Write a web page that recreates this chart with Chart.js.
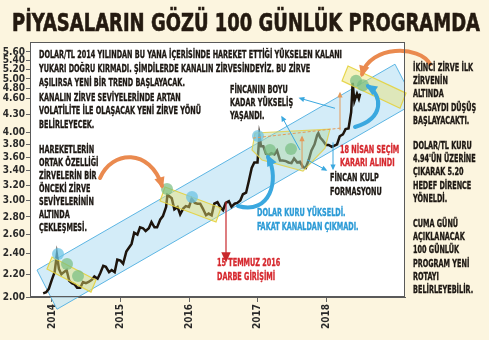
<!DOCTYPE html>
<html>
<head>
<meta charset="utf-8">
<script src="https://cdn.jsdelivr.net/npm/chart.js@4.4.1/dist/chart.umd.min.js"></script>
<style>
    html, body { margin: 0; padding: 0; background: #fcf5df; }
    #c { display: block; }
</style>
</head>
<body>
<canvas id="c" width="489" height="340"></canvas>
<script>
// ---- Data ----
const dates = [
    '2013-11-15', '2013-12-01', '2013-12-15', '2013-12-31',
    '2014-01-15', '2014-01-27', '2014-02-07', '2014-02-20', '2014-03-05', '2014-03-20',
    '2014-04-03', '2014-04-17', '2014-05-01', '2014-05-15', '2014-06-01', '2014-06-15',
    '2014-07-01', '2014-07-15', '2014-08-01', '2014-08-15', '2014-09-01', '2014-09-15',
    '2014-10-01', '2014-10-15', '2014-11-01', '2014-11-15', '2014-12-01', '2014-12-15',
    '2015-01-01', '2015-01-15', '2015-02-01', '2015-02-15', '2015-03-01', '2015-03-15',
    '2015-04-01', '2015-04-15', '2015-05-01', '2015-05-15', '2015-06-01', '2015-06-15',
    '2015-07-01', '2015-07-15', '2015-08-01', '2015-08-15', '2015-09-01', '2015-09-08',
    '2015-09-20', '2015-10-01', '2015-10-15', '2015-11-01', '2015-11-15', '2015-12-01',
    '2015-12-15', '2016-01-01', '2016-01-15', '2016-02-01', '2016-02-15', '2016-03-01',
    '2016-03-15', '2016-04-01', '2016-04-15', '2016-05-01', '2016-05-15', '2016-06-01',
    '2016-06-15', '2016-07-01', '2016-07-15', '2016-08-01', '2016-08-15', '2016-09-01',
    '2016-09-15', '2016-10-01', '2016-10-15', '2016-11-01', '2016-11-15', '2016-12-01',
    '2016-12-15', '2017-01-01', '2017-01-11', '2017-01-20', '2017-02-01', '2017-02-15',
    '2017-03-01', '2017-03-15', '2017-04-01', '2017-04-15', '2017-05-01', '2017-05-15',
    '2017-06-01', '2017-06-15', '2017-07-01', '2017-07-15', '2017-08-01', '2017-08-15',
    '2017-09-01', '2017-09-15', '2017-10-01', '2017-10-15', '2017-11-01', '2017-11-15',
    '2017-11-21', '2017-12-01', '2017-12-15', '2018-01-01', '2018-01-15', '2018-02-01',
    '2018-02-15', '2018-03-01', '2018-03-15', '2018-04-01', '2018-04-15', '2018-05-01',
    '2018-05-15', '2018-05-23', '2018-06-01', '2018-06-15', '2018-06-25', '2018-07-02'
];
const usdTry = [
    2.03, 2.04, 2.07, 2.15,
    2.22, 2.39, 2.25, 2.20, 2.22, 2.24,
    2.14, 2.12, 2.11, 2.08, 2.08, 2.13,
    2.12, 2.13, 2.15, 2.18, 2.16, 2.21,
    2.28, 2.27, 2.22, 2.24, 2.22, 2.34,
    2.33, 2.30, 2.42, 2.46, 2.50, 2.62,
    2.60, 2.68, 2.67, 2.64, 2.67, 2.74,
    2.68, 2.68, 2.77, 2.81, 2.92, 3.07,
    3.05, 3.03, 2.89, 2.92, 2.83, 2.90,
    2.93, 2.92, 3.02, 2.97, 2.96, 2.96,
    2.90, 2.82, 2.84, 2.82, 2.96, 2.98,
    2.92, 2.88, 2.97, 2.99, 2.92, 2.96,
    2.97, 3.00, 3.08, 3.10, 3.25, 3.44,
    3.52, 3.52, 3.94, 3.77, 3.77, 3.65,
    3.63, 3.66, 3.64, 3.70, 3.55, 3.55,
    3.54, 3.52, 3.51, 3.58, 3.52, 3.53,
    3.45, 3.44, 3.56, 3.70, 3.80, 3.95,
    3.98, 3.91, 3.86, 3.79, 3.79, 3.76,
    3.78, 3.80, 3.93, 3.96, 4.05, 4.06,
    4.35, 4.92, 4.55, 4.70, 4.60, 4.70
];
const yearTicks = [2014, 2015, 2016, 2017, 2018];
const priceTicks = [2.00, 2.20, 2.40, 2.60, 2.80, 3.00, 3.20, 3.40, 3.60, 3.80,
    4.00, 4.30, 4.60, 4.80, 5.00, 5.20, 5.40, 5.60];

// ---- Annotation shapes, in [decimal year, price] ----
const channel = [[2013.781, 2.24], [2019.007, 5.32], [2019.299, 4.52], [2014.073, 1.90]];
const yellowBoxes = [
    [[2014.000, 2.366], [2014.642, 2.148], [2014.569, 2.042], [2013.927, 2.250]],
    [[2015.650, 3.175], [2016.467, 2.907], [2016.394, 2.741], [2015.577, 2.994]],
    [[2018.321, 5.28], [2019.168, 4.71], [2019.080, 4.42], [2018.234, 4.96]]
];
const cupArea = [[2016.964, 3.984], [2018.058, 4.049], [2017.985, 3.739],
    [2017.664, 3.395], [2017.066, 3.556], [2016.920, 3.71]];
const peakDots = [
    [2014.088, 2.396, 'b'], [2014.219, 2.297, 'g'], [2014.380, 2.184, 'g'],
    [2015.679, 3.149, 'g'], [2016.044, 3.045, 'b'],
    [2017.007, 3.934, 'b'], [2017.182, 3.71, 'g'], [2017.489, 3.725, 'g'],
    [2018.438, 4.96, 'g'], [2018.540, 4.87, 'g']
];
// curved arrows: start, control 1, control 2, end (head)
const bigArrows = [
    { c: '#ea8a4f', p: [[2014.701, 3.297], [2014.876, 3.71], [2015.431, 3.739], [2015.606, 3.19]] },
    { c: '#ea8a4f', p: [[2019.518, 5.32], [2019.372, 5.766], [2018.642, 5.766], [2018.526, 5.10]] },
    { c: '#3aa8df', p: [[2016.715, 2.932], [2017.182, 2.822], [2017.328, 3.27], [2017.153, 3.60]] },
    { c: '#3aa8df', p: [[2018.423, 4.086], [2018.861, 4.24], [2018.818, 4.67], [2018.613, 4.85]] }
];
// thin straight pointers: from, to (head)
const thinArrows = [
    { c: '#3aa8df', p: [[2018.131, 4.42], [2017.620, 4.61]] },
    { c: '#3aa8df', p: [[2017.620, 3.71], [2017.358, 4.26]] },
    { c: '#3aa8df', p: [[2017.723, 3.56], [2018.000, 3.41]] },
    { c: '#3aa8df', p: [[2018.102, 3.83], [2018.102, 3.43]] },
    { c: '#e39a5a', p: [[2017.650, 3.43], [2017.650, 3.918]] },
    { c: '#e39a5a', p: [[2018.204, 4.03], [2018.204, 4.71]] }
];
const cupRim = [[2016.934, 3.90], [2018.234, 4.07]];
const coupArrow = [[2016.540, 2.98], [2016.540, 2.336]];

// ---- Texts ----
const titleText = 'PİYASALARIN GÖZÜ 100 GÜNLÜK PROGRAMDA';
const noteChannel = ['DOLAR/TL 2014 YILINDAN BU YANA İÇERİSİNDE HAREKET ETTİĞİ YÜKSELEN KALANI',
    'YUKARI DOĞRU KIRMADI. ŞİMDİLERDE KANALIN ZİRVESİNDEYİZ. BU ZİRVE',
    'AŞILIRSA YENİ BİR TREND BAŞLAYACAK.'];
const noteVolatility = ['KANALIN ZİRVE SEVİYELERİNDE ARTAN',
    'VOLATİLİTE İLE OLAŞACAK YENİ ZİRVE YÖNÜ', 'BELİRLEYECEK.'];
const notePeaks = ['HAREKETLERİN', 'ORTAK ÖZELLİĞİ', 'ZİRVELERİN BİR', 'ÖNCEKİ ZİRVE',
    'SEVİYELERİNİN', 'ALTINDA', 'ÇEKLEŞMESİ.'];
const noteCup = ['FİNCANIN BOYU', 'KADAR YÜKSELİŞ', 'YAŞANDI.'];
const noteRise = ['DOLAR KURU YÜKSELDİ.', 'FAKAT KANALDAN ÇIKMADI.'];
const noteCoup = ['15 TEMMUZ 2016', 'DARBE GİRİŞİMİ'];
const noteElection = ['18 NİSAN SEÇİM', 'KARARI ALINDI'];
const noteHandle = ['FİNCAN KULP', 'FORMASYONU'];
const sideSecond = ['İKİNCİ ZİRVE İLK', 'ZİRVENİN', 'ALTINDA', 'KALSAYDI DÜŞÜŞ', 'BAŞLAYACAKTI.'];
const sideTarget = ['DOLAR/TL KURU', '4.94\'ÜN ÜZERİNE', 'ÇIKARAK 5.20', 'HEDEF DİRENCE', 'YÖNELDİ.'];
const sideFriday = ['CUMA GÜNÜ', 'AÇIKLANACAK', '100 GÜNLÜK', 'PROGRAM YENİ', 'ROTAYI', 'BELİRLEYEBİLİR.'];

const FONT = "'Liberation Sans Narrow', 'DejaVu Sans Condensed', Roboto, sans-serif";
const INK = '#1c1712';
const RED = '#d6282e';
const BLUE = '#2c9bd6';

const notes = [
    { lines: noteChannel, x: 39, y: 55, lh: 14, color: INK },
    { lines: noteVolatility, x: 39, y: 98, lh: 13.5, color: INK },
    { lines: notePeaks, x: 39, y: 150, lh: 13, color: INK },
    { lines: noteCup, x: 230, y: 90, lh: 13, color: INK },
    { lines: noteRise, x: 257, y: 213, lh: 14, color: BLUE },
    { lines: noteCoup, x: 217, y: 263, lh: 14, color: RED },
    { lines: noteElection, x: 340, y: 150, lh: 13, color: RED },
    { lines: noteHandle, x: 330, y: 178, lh: 14, color: INK },
    { lines: sideSecond, x: 413, y: 68, lh: 13.3, color: INK },
    { lines: sideTarget, x: 413, y: 146, lh: 13.3, color: INK },
    { lines: sideFriday, x: 413, y: 224, lh: 13.3, color: INK }
];

function decYear(s) {
    const d = new Date(s + 'T00:00:00Z');
    const y = d.getUTCFullYear();
    const a = Date.UTC(y, 0, 1), b = Date.UTC(y + 1, 0, 1);
    return y + (d.getTime() - a) / (b - a);
}

const points = dates.map((d, i) => ({ x: decYear(d), y: usdTry[i] }));

const decor = {
    id: 'decor',
    beforeDraw(chart) {
        const { ctx, chartArea: a } = chart;
        ctx.save();
        ctx.fillStyle = '#fcf5df';
        ctx.fillRect(0, 0, chart.width, chart.height);
        ctx.fillStyle = '#ffffff';
        ctx.fillRect(a.left, a.top, a.right - a.left, a.bottom - a.top);
        // title
        ctx.fillStyle = '#241a10';
        ctx.font = 'bold 25px ' + FONT;
        ctx.textBaseline = 'alphabetic';
        const w = ctx.measureText(titleText).width;
        ctx.translate(12, 31);
        ctx.scale(468 / w, 1);
        ctx.fillText(titleText, 0, 0);
        ctx.lineWidth = 0.6;
        ctx.strokeStyle = '#241a10';
        ctx.strokeText(titleText, 0, 0);
        ctx.restore();
    },
    beforeDatasetsDraw(chart) {
        const { ctx, chartArea: a } = chart;
        const px = p => [chart.scales.x.getPixelForValue(p[0]), chart.scales.y.getPixelForValue(p[1])];
        ctx.save();
        ctx.beginPath();
        ctx.rect(0, a.top, a.right, chart.height - a.top);
        ctx.clip();
        ctx.beginPath();
        channel.map(px).forEach((q, i) => i ? ctx.lineTo(q[0], q[1]) : ctx.moveTo(q[0], q[1]));
        ctx.closePath();
        ctx.fillStyle = 'rgba(196, 229, 245, 0.75)';
        ctx.fill();
        ctx.strokeStyle = '#5db6e4';
        ctx.lineWidth = 1;
        ctx.stroke();
        ctx.restore();
    },
    afterDatasetsDraw(chart) {
        const { ctx } = chart;
        const px = p => [chart.scales.x.getPixelForValue(p[0]), chart.scales.y.getPixelForValue(p[1])];
        const poly = (pts, fill, stroke) => {
            ctx.beginPath();
            pts.map(px).forEach((q, i) => i ? ctx.lineTo(q[0], q[1]) : ctx.moveTo(q[0], q[1]));
            ctx.closePath();
            ctx.fillStyle = fill;
            ctx.fill();
            ctx.strokeStyle = stroke;
            ctx.lineWidth = 1.2;
            ctx.stroke();
        };
        const head = (tip, from, size, color) => {
            const ang = Math.atan2(tip[1] - from[1], tip[0] - from[0]);
            ctx.beginPath();
            ctx.moveTo(tip[0] + Math.cos(ang) * size * 0.3, tip[1] + Math.sin(ang) * size * 0.3);
            ctx.lineTo(tip[0] - Math.cos(ang - 0.55) * size, tip[1] - Math.sin(ang - 0.55) * size);
            ctx.lineTo(tip[0] - Math.cos(ang + 0.55) * size, tip[1] - Math.sin(ang + 0.55) * size);
            ctx.closePath();
            ctx.fillStyle = color;
            ctx.fill();
        };
        ctx.save();
        poly(cupArea, 'rgba(178, 218, 170, 0.5)', 'rgba(226, 210, 80, 0.9)');
        yellowBoxes.forEach(b => poly(b, 'rgba(236, 226, 110, 0.45)', 'rgba(228, 210, 60, 0.9)'));
        peakDots.forEach(d => {
            const q = px(d);
            ctx.beginPath();
            ctx.arc(q[0], q[1], 6, 0, Math.PI * 2);
            ctx.fillStyle = d[2] === 'b' ? 'rgba(110, 196, 228, 0.75)' : 'rgba(120, 190, 130, 0.7)';
            ctx.fill();
        });
        // cup rim and measuring lines
        const r = cupRim.map(px);
        ctx.strokeStyle = '#e39a5a';
        ctx.lineWidth = 1;
        ctx.setLineDash([3, 2]);
        ctx.beginPath();
        ctx.moveTo(r[0][0], r[0][1]);
        ctx.lineTo(r[1][0], r[1][1]);
        ctx.stroke();
        ctx.setLineDash([]);
        thinArrows.forEach(t => {
            const p = t.p.map(px);
            ctx.strokeStyle = t.c;
            ctx.lineWidth = 1;
            ctx.beginPath();
            ctx.moveTo(p[0][0], p[0][1]);
            ctx.lineTo(p[1][0], p[1][1]);
            ctx.stroke();
            head(p[1], p[0], 5, t.c);
        });
        bigArrows.forEach(b => {
            const p = b.p.map(px);
            ctx.strokeStyle = b.c;
            ctx.lineWidth = 4;
            ctx.lineCap = 'round';
            ctx.beginPath();
            ctx.moveTo(p[0][0], p[0][1]);
            ctx.bezierCurveTo(p[1][0], p[1][1], p[2][0], p[2][1], p[3][0], p[3][1]);
            ctx.stroke();
            head(p[3], p[2], 10, b.c);
        });
        // coup arrow
        const c = coupArrow.map(px);
        ctx.strokeStyle = '#c8282c';
        ctx.lineWidth = 1.2;
        ctx.beginPath();
        ctx.moveTo(c[0][0], c[0][1]);
        ctx.lineTo(c[1][0], c[1][1] - 6);
        ctx.stroke();
        head(c[1], c[0], 9, '#c8282c');
        ctx.restore();
    },
    afterDraw(chart) {
        const { ctx, chartArea: a } = chart;
        ctx.save();
        ctx.strokeStyle = '#5a5a5a';
        ctx.lineWidth = 1;
        ctx.strokeRect(a.left + 0.5, a.top + 0.5, a.right - a.left - 1, a.bottom - a.top - 1);
        ctx.font = 'bold 11px ' + FONT;
        ctx.textBaseline = 'middle';
        const squeeze = Math.min(1, 303 / ctx.measureText(noteChannel[0]).width);
        notes.forEach(n => {
            ctx.fillStyle = n.color;
            ctx.strokeStyle = n.color;
            ctx.lineWidth = 0.35;
            n.lines.forEach((t, i) => {
                ctx.save();
                ctx.translate(n.x, n.y + i * n.lh);
                ctx.scale(squeeze, 1);
                ctx.fillText(t, 0, 0);
                ctx.strokeText(t, 0, 0);
                ctx.restore();
            });
        });
        ctx.restore();
    }
};

const tickFont = { family: FONT, size: 10, weight: 'bold' };

new Chart(document.getElementById('c'), {
    type: 'line',
    data: {
        datasets: [{
            data: points,
            borderColor: '#1d140c',
            borderWidth: 2.5,
            pointRadius: 0,
            tension: 0,
            fill: false
        }]
    },
    options: {
        responsive: false,
        animation: false,
        events: [],
        layout: { padding: { top: 42, right: 84, left: 0, bottom: 0 } },
        plugins: {
            legend: { display: false },
            tooltip: { enabled: false },
            title: { display: false }
        },
        scales: {
            x: {
                type: 'linear',
                min: 2013.679,
                max: 2019.153,
                afterBuildTicks: s => { s.ticks = yearTicks.map(v => ({ value: v })); },
                afterFit: s => { s.height = 43; },
                ticks: {
                    autoSkip: false,
                    minRotation: 90,
                    maxRotation: 90,
                    padding: 2,
                    font: tickFont,
                    color: '#2a2a2a',
                    callback: v => String(v)
                },
                grid: { drawOnChartArea: false, tickLength: 5, color: '#666' },
                border: { color: '#5a5a5a' }
            },
            y: {
                type: 'logarithmic',
                min: 2,
                max: 5.84,
                afterBuildTicks: s => { s.ticks = priceTicks.map(v => ({ value: v })); },
                afterFit: s => { s.width = 30; },
                ticks: {
                    autoSkip: false,
                    padding: 1,
                    font: tickFont,
                    color: '#2a2a2a',
                    callback: v => Number(v).toFixed(2)
                },
                grid: { drawOnChartArea: false, tickLength: 4, color: '#666' },
                border: { color: '#5a5a5a' }
            }
        }
    },
    plugins: [decor]
});
</script>
</body>
</html>
